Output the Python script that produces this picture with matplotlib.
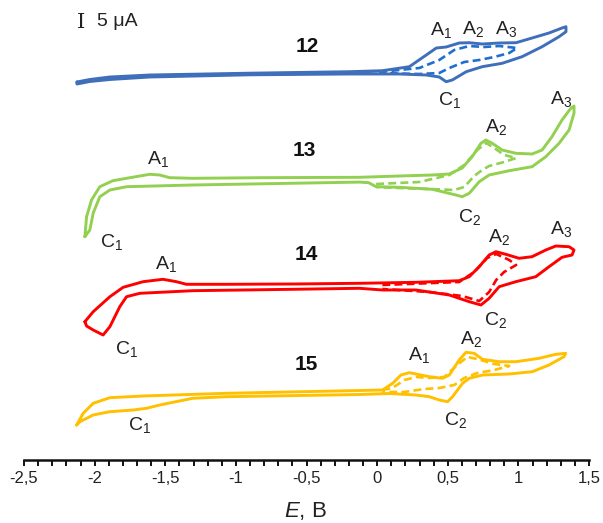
import matplotlib
matplotlib.use('Agg')
import matplotlib.pyplot as plt
from matplotlib.ticker import MultipleLocator

plt.rcParams['font.family'] = ['Liberation Sans', 'DejaVu Sans']
plt.rcParams['mathtext.fontset'] = 'custom'
plt.rcParams['mathtext.rm'] = 'Liberation Sans'
plt.rcParams['mathtext.it'] = 'Liberation Sans:italic'
plt.rcParams['mathtext.bf'] = 'Liberation Sans:bold'

# ---------------- data: E (V), I (uA) ----------------
# compound 12 (full scan loop)
E12 = [-2.125, -2.034, -1.892, -1.610, -0.903, -0.196, 0.037, 0.228, 0.348, 0.419, 0.489, 0.581,
       0.652, 0.744, 0.864, 0.984, 1.097, 1.217, 1.309, 1.337,
       1.337, 1.288, 1.168, 1.026, 0.885, 0.744, 0.631, 0.532, 0.489, 0.440, 0.348, 0.157,
       -0.196, -0.903, -1.610, -1.892, -2.034, -2.125, -2.125]
I12 = [-5.0, -3.75, -2.5, -1.5, -0.6, 0.15, 0.65, 2.65, 8.5, 12.0, 12.5, 14.5,
       14.65, 14.0, 14.5, 14.65, 17.0, 19.5, 22.0, 22.65,
       20.15, 17.65, 12.65, 7.65, 4.35, 2.65, 0.15, -4.0, -4.85, -2.5, -1.5, -1.0,
       -1.0, -1.4, -2.5, -3.75, -4.75, -6.0, -5.0]
# compound 12 (narrow scan, dashed)
E12d = [0.016, 0.299, 0.440, 0.546, 0.652, 0.758, 0.864, 0.991,
        0.935, 0.829, 0.723, 0.617, 0.511, 0.440, 0.299, 0.016]
I12d = [0.0, 2.0, 6.0, 11.0, 13.0, 12.5, 13.0, 12.0,
        9.5, 7.5, 6.0, 5.0, 2.0, -0.5, -1.0, -0.5]

# compound 13
E13 = [-2.069, -2.057, -2.022, -1.963, -1.871, -1.774, -1.680, -1.610, -1.539, -1.468, -1.306,
       -0.832, -0.125, 0.157, 0.391, 0.511, 0.602, 0.673, 0.735, 0.770, 0.815, 0.885, 0.982,
       1.097, 1.168, 1.238, 1.309, 1.371, 1.394,
       1.394, 1.359, 1.288, 1.194, 1.097, 0.935, 0.793, 0.723, 0.652, 0.602, 0.558, 0.391,
       0.157, -0.007, -0.060, -0.125, -1.306, -1.774, -1.892, -1.963, -2.010, -2.034, -2.069]
I13 = [-29.6, -19.6, -11.25, -4.6, -1.6, -0.4, 0.75, 1.6, 1.25, -0.1, -0.4,
       -0.1, 0.1, 0.75, 1.25, 1.75, 4.75, 10.4, 17.1, 18.75, 17.1, 13.75, 12.1,
       11.75, 13.75, 20.4, 28.75, 34.6, 35.75,
       32.25, 23.75, 17.1, 10.4, 5.4, 3.4, 1.25, -2.1, -7.9, -9.6, -8.75, -5.9,
       -4.9, -4.6, -2.6, -2.3, -3.75, -4.6, -6.25, -9.6, -17.75, -26.25, -29.6]
E13d = [-0.007, 0.299, 0.511, 0.617, 0.709, 0.772, 0.829, 0.899, 0.984,
        0.899, 0.793, 0.744, 0.687, 0.617, 0.546, 0.369, 0.157, -0.007]
I13d = [-3.25, -2.25, 1.25, 6.25, 13.75, 17.25, 14.75, 11.25, 9.75,
        7.75, 5.75, 3.75, 0.75, -4.75, -6.25, -5.75, -5.25, -4.75]

# compound 14
E14 = [-2.069, -2.010, -1.892, -1.798, -1.657, -1.516, -1.421, -1.350, -1.068, -0.599, -0.125,
       0.275, 0.581, 0.652, 0.723, 0.793, 0.841, 0.911, 1.005, 1.097, 1.194, 1.265, 1.359, 1.394,
       1.380, 1.309, 1.217, 1.123, 0.982, 0.864, 0.793, 0.735, 0.652, 0.511, 0.275, 0.039,
       -0.125, -0.599, -1.306, -1.680, -1.774, -1.822, -1.892, -1.940, -2.010, -2.057, -2.069]
I14 = [-19.1, -14.1, -6.6, -1.9, 0.9, 2.1, 0.9, -0.4, -0.4, -0.25, 0.1,
       0.6, 1.4, 3.4, 8.4, 14.25, 15.9, 14.6, 12.6, 13.4, 16.75, 18.75, 18.4, 16.75,
       14.25, 13.1, 8.4, 3.4, 0.9, -1.6, -7.4, -10.75, -9.1, -5.75, -3.25, -3.25,
       -2.4, -2.9, -3.6, -4.9, -6.6, -11.6, -21.6, -25.75, -23.25, -21.25, -19.1]
E14d = [0.037, 0.581, 0.687, 0.779, 0.843, 0.935, 0.984,
        0.899, 0.843, 0.793, 0.723, 0.602, 0.369, 0.037]
I14d = [-0.75, 0.75, 5.75, 12.75, 14.75, 11.75, 9.25,
        5.75, 1.75, -4.25, -8.75, -6.25, -4.25, -2.75]

# compound 15
E15 = [-2.127, -2.081, -2.010, -1.892, -1.657, -1.068, -0.125, 0.039, 0.110, 0.169, 0.228, 0.275,
       0.369, 0.463, 0.511, 0.581, 0.629, 0.687, 0.746, 0.864, 0.982, 1.147, 1.265, 1.335,
       1.323, 1.217, 1.099, 0.935, 0.746, 0.652, 0.605, 0.534, 0.499, 0.440, 0.369, 0.275,
       0.087, -0.125, -1.068, -1.306, -1.539, -1.633, -1.727, -1.892, -2.010, -2.104, -2.127]
I15 = [-17.0, -11.15, -6.15, -3.35, -2.5, -1.15, 0.25, 0.5, 3.85, 8.0, 9.15, 8.5,
       7.15, 6.35, 8.0, 15.5, 19.35, 18.85, 15.85, 14.65, 14.65, 16.35, 18.35, 18.85,
       17.15, 13.0, 9.65, 8.5, 8.0, 6.35, 3.85, -2.85, -5.35, -4.5, -2.85, -2.0,
       -1.25, -1.75, -2.85, -3.65, -7.0, -8.65, -9.5, -10.35, -12.0, -15.35, -17.0]
E15d = [0.037, 0.108, 0.193, 0.278, 0.369, 0.475, 0.567, 0.638, 0.709, 0.829, 0.935,
        0.829, 0.709, 0.617, 0.546, 0.440, 0.334, 0.193, 0.037]
I15d = [0.5, 1.5, 5.5, 7.0, 6.5, 7.0, 13.0, 17.0, 16.0, 13.5, 12.5,
        10.5, 9.0, 6.5, 3.0, 1.5, 1.0, -0.5, -0.5]

tick_values = [-2.5, -2.0, -1.5, -1.0, -0.5, 0.0, 0.5, 1.0, 1.5]
tick_labels = ['-2,5', '-2', '-1,5', '-1', '-0,5', '0', '0,5', '1', '1,5']
compound_names = ['12', '13', '14', '15']

# ---------------- layout / style ----------------
W, H = 603, 523
AX_BOTTOM = 460
fig = plt.figure(figsize=(W / 100, H / 100), dpi=100)
ax = fig.add_axes([24 / W, (H - AX_BOTTOM) / H, (589 - 24) / W, AX_BOTTOM / H])
ax.set_xlim(-2.5, 1.5)
ax.set_ylim(0, AX_BOTTOM / 2)

colors = {'12': '#3F6FBA', '13': '#92D050', '14': '#FF0000', '15': '#FFC000'}
dash_colors = {'12': '#1F6FD0', '13': '#92D050', '14': '#FF0000', '15': '#FFC000'}
offsets = {'12': 194.0, '13': 141.25, '14': 88.25, '15': 34.5}

solid = {'12': (E12, I12), '13': (E13, I13), '14': (E14, I14), '15': (E15, I15)}
dashed = {'12': (E12d, I12d), '13': (E13d, I13d), '14': (E14d, I14d), '15': (E15d, I15d)}

for name in compound_names:
    off = offsets[name]
    e, i = dashed[name]
    ax.plot(e, [v + off for v in i], color=dash_colors[name], lw=1.9, ls=(0, (3, 1.6)),
            dash_capstyle='butt')
    e, i = solid[name]
    ax.plot(e, [v + off for v in i], color=colors[name], lw=2.1,
            solid_joinstyle='round', solid_capstyle='round')

for s in ['left', 'right', 'top']:
    ax.spines[s].set_visible(False)
ax.spines['bottom'].set_linewidth(1.8)
ax.spines['bottom'].set_color('#111111')
ax.set_yticks([])
ax.set_xticks(tick_values)
ax.set_xticklabels(tick_labels)
ax.xaxis.set_minor_locator(MultipleLocator(0.1))
ax.tick_params(axis='x', which='both', direction='out', length=4, width=1.4, color='#111111')
ax.tick_params(axis='x', which='major', labelsize=12, pad=4, labelcolor='#222222')


def ftext(px, py, s, **kw):
    fig.text(px / W, 1 - py / H, s, **kw)


ftext(305, 511, r'$\mathit{E}$, В', fontsize=16, ha='center', va='center', color='#222222')

# compound numbers
for name, (px, py) in zip(compound_names, [(307, 46), (304, 150), (306, 255), (306, 365)]):
    ftext(px, py, name, fontsize=15, fontweight='bold', ha='center', va='center', color='#111111')

# scale bar
ftext(81, 22, 'I', fontsize=15, family='DejaVu Serif', ha='center', va='center', color='#222222')
ftext(97, 22, '5 μA', fontsize=14, ha='left', va='center', color='#222222')

# peak labels: (letter, sub, x of A-centre px, y of A-centre px)
peak_labels = [
    ('A', '1', 436.7, 28.3), ('A', '2', 468.3, 26.7), ('A', '3', 501.7, 26.7), ('C', '1', 445, 98),
    ('A', '1', 153.3, 156.7), ('C', '1', 106.7, 240), ('A', '2', 491.7, 125), ('A', '3', 556, 97),
    ('C', '2', 465, 215),
    ('A', '1', 161.7, 261.7), ('C', '1', 121.7, 346.7), ('A', '2', 495, 235), ('A', '3', 556.7, 226.7),
    ('C', '2', 490, 318.3),
    ('A', '1', 415, 353.3), ('A', '2', 466.7, 336.7), ('C', '2', 450, 418.3), ('C', '1', 135, 423.3),
]
for letter, sub, px, py in peak_labels:
    ftext(px - 6.5, py + 7, letter + r'$_\mathrm{' + sub + '}$', fontsize=14, ha='left',
          va='baseline', color='#222222')

fig.savefig('out.png', dpi=100)
